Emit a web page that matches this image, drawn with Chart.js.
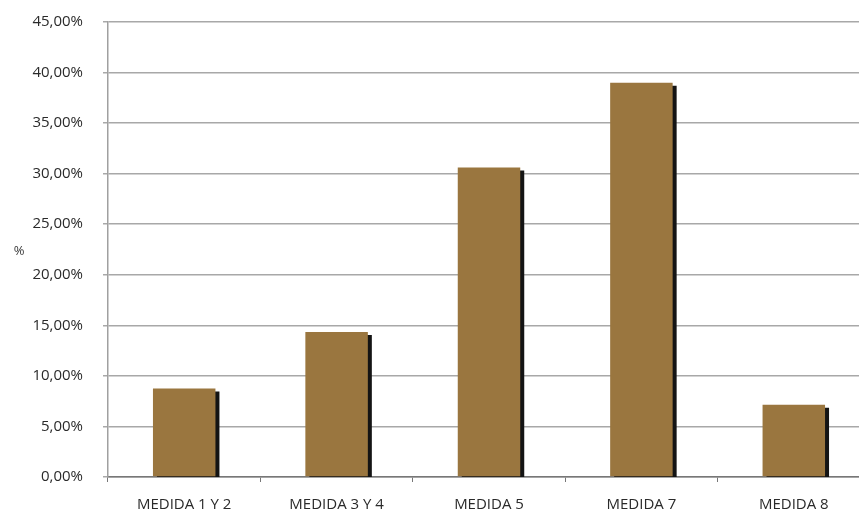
<!DOCTYPE html>
<html lang="es">
<head>
    <meta charset="UTF-8">
    <title>Medidas</title>
    <style>
        html, body { margin: 0; padding: 0; background: #fff; overflow: hidden; }
        canvas { display: block; }
    </style>
</head>
<body>
    <canvas id="myChart" width="870" height="511"></canvas>

    <script src="https://cdn.jsdelivr.net/npm/chart.js"></script>
    <script>
        // datos
        const categorias = ['MEDIDA 1 Y 2', 'MEDIDA 3 Y 4', 'MEDIDA 5', 'MEDIDA 7', 'MEDIDA 8'];
        const valores = [8.75, 14.35, 30.6, 39.0, 7.15];
        const ejeY = { min: 0, max: 45, paso: 5 };

        const fuente = "'Open Sans', 'Liberation Sans', sans-serif";

        // sombra negra a la derecha de cada barra
        const sombra = {
            id: 'sombra',
            beforeDatasetsDraw(chart) {
                const ctx = chart.ctx;
                ctx.save();
                ctx.shadowColor = '#141414';
                ctx.shadowOffsetX = 4;
                ctx.shadowOffsetY = 3;
                ctx.shadowBlur = 0;
            },
            afterDatasetsDraw(chart) {
                chart.ctx.restore();
            }
        };

        // "%" horizontal a la izquierda
        const tituloY = {
            id: 'tituloY',
            afterDraw(chart) {
                const ctx = chart.ctx;
                const a = chart.chartArea;
                ctx.save();
                ctx.font = '13px ' + fuente;
                ctx.fillStyle = '#3a3a3a';
                ctx.textAlign = 'center';
                ctx.textBaseline = 'middle';
                ctx.fillText('%', 19, (a.top + a.bottom) / 2 + 2);
                ctx.restore();
            }
        };

        new Chart(document.getElementById('myChart'), {
            type: 'bar',
            data: {
                labels: categorias,
                datasets: [{
                    data: valores,
                    backgroundColor: '#9a763f',
                    borderWidth: 0,
                    categoryPercentage: 1,
                    barPercentage: 0.41
                }]
            },
            options: {
                responsive: false,
                animation: false,
                layout: { padding: { top: 22, right: 0, left: 0, bottom: 0 } },
                plugins: {
                    legend: { display: false },
                    tooltip: { enabled: false }
                },
                scales: {
                    x: {
                        grid: {
                            drawOnChartArea: false,
                            drawTicks: true,
                            tickLength: 5,
                            color: '#777'
                        },
                        border: { color: '#777', width: 1.5 },
                        ticks: {
                            color: '#2a2a2a',
                            font: { family: fuente, size: 15 },
                            padding: 14,
                            maxRotation: 0
                        },
                        afterFit(scale) { scale.height = 34; }
                    },
                    y: {
                        min: ejeY.min,
                        max: ejeY.max,
                        grid: {
                            color: '#a8a8a8',
                            lineWidth: 1.5,
                            tickLength: 5
                        },
                        border: { color: '#a0a0a0', width: 1.5 },
                        ticks: {
                            stepSize: ejeY.paso,
                            color: '#2a2a2a',
                            font: { family: fuente, size: 15 },
                            padding: 20,
                            callback: v => v.toFixed(2).replace('.', ',') + '%'
                        },
                        afterFit(scale) {
                            scale.width = 108;
                            scale.paddingTop = 0;
                            scale.paddingBottom = 0;
                        }
                    }
                }
            },
            plugins: [sombra, tituloY]
        });
    </script>
</body>
</html>
